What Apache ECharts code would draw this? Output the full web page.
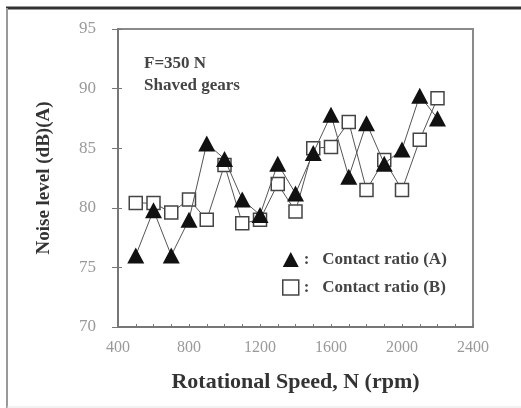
<!DOCTYPE html>
<html>
<head>
<meta charset="utf-8">
<script src="https://cdn.jsdelivr.net/npm/echarts@6/dist/echarts.min.js"></script>
<style>html,body{margin:0;padding:0;background:#fff}#c{width:521px;height:408px}</style>
</head>
<body>
<div id="c"></div>
<script>
var speeds = [500,600,700,800,900,1000,1100,1200,1300,1400,1500,1600,1700,1800,1900,2000,2100,2200];
var ratioA = [76.0,79.8,76.0,79.0,85.4,84.1,80.7,79.4,83.7,81.2,84.6,87.8,82.6,87.1,83.7,84.9,89.4,87.5];
var ratioB = [80.4,80.4,79.6,80.7,79.0,83.6,78.7,79.0,82.0,79.7,85.0,85.1,87.2,81.5,84.0,81.5,85.7,89.2];
var seriesNames = ['Contact ratio (A)', 'Contact ratio (B)'];
var xTicks = {min: 400, max: 2400, step: 400};
var yTicks = {min: 70, max: 95, step: 5};

var serif = '"Liberation Serif", "DejaVu Serif", serif';
var chart = echarts.init(document.getElementById('c'), null, {renderer: 'canvas'});
function pairs(xs, ys){ return xs.map(function(x,i){ return [x, ys[i]]; }); }

chart.setOption({
  animation: false,
  backgroundColor: '#fff',
  grid: {left: 118, right: 48, top: 29, bottom: 81, show: true, borderColor: '#8a8a8a', borderWidth: 2, backgroundColor: 'transparent'},
  xAxis: {
    type: 'value', min: xTicks.min, max: xTicks.max, interval: xTicks.step,
    name: 'Rotational Speed, N (rpm)', nameLocation: 'middle', nameGap: 44,
    nameTextStyle: {fontFamily: serif, fontWeight: 'bold', fontSize: 22, color: '#333'},
    axisLine: {lineStyle: {color: '#777', width: 2}},
    axisTick: {inside: true, length: 3, lineStyle: {color: '#777'}},
    minorTick: {show: true, splitNumber: 4, length: 3, lineStyle: {color: '#777'}},
    splitLine: {show: false},
    axisLabel: {fontFamily: serif, fontSize: 16, color: '#999', margin: 13, formatter: function(v){ return String(v); }}
  },
  yAxis: [{
    type: 'value', min: yTicks.min, max: yTicks.max, interval: yTicks.step,
    name: 'Noise level (dB)(A)', nameLocation: 'middle', nameGap: 64,
    nameTextStyle: {fontFamily: serif, fontWeight: 'bold', fontSize: 19, color: '#333'},
    axisLine: {lineStyle: {color: '#777', width: 2}},
    axisTick: {inside: false, length: 6, lineStyle: {color: '#777'}},
    splitLine: {show: false},
    axisLabel: {fontFamily: serif, fontSize: 17, color: '#999', margin: 22}
  }, {
    type: 'value', min: yTicks.min, max: yTicks.max, interval: yTicks.step, position: 'left',
    axisLine: {show: false},
    axisTick: {inside: true, length: 4, lineStyle: {color: '#777'}},
    splitLine: {show: false},
    axisLabel: {show: false}
  }],
  legend: {
    orient: 'vertical', left: 277, top: 246, itemGap: 11, itemWidth: 16, itemHeight: 15,
    textStyle: {fontFamily: serif, fontWeight: 'bold', fontSize: 17, color: '#444'},
    formatter: function(n){ return ':   ' + n; },
    data: [
      {name: seriesNames[0], icon: 'triangle', itemStyle: {color: '#111', borderWidth: 0}},
      {name: seriesNames[1], icon: 'rect', itemStyle: {color: '#fff', borderColor: '#444', borderWidth: 1.5}}
    ]
  },
  graphic: [
    {type: 'line', shape: {x1: 6, y1: 8, x2: 521, y2: 8}, style: {stroke: '#333', lineWidth: 3}},
    {type: 'line', shape: {x1: 7, y1: 8, x2: 7, y2: 408}, style: {stroke: '#999', lineWidth: 2}},
    {type: 'line', shape: {x1: 7, y1: 407, x2: 521, y2: 407}, style: {stroke: '#e4e4e4', lineWidth: 1}},
    {type: 'text', left: 144, top: 55, style: {text: 'F=350 N', font: 'bold 17px ' + serif, fill: '#444'}},
    {type: 'text', left: 144, top: 77, style: {text: 'Shaved gears', font: 'bold 17px ' + serif, fill: '#444'}}
  ],
  series: [{
    name: seriesNames[0], type: 'line', data: pairs(speeds, ratioA),
    symbol: 'triangle', symbolSize: [17, 16],
    lineStyle: {color: '#555', width: 1},
    itemStyle: {color: '#111', borderWidth: 0}, z: 3
  }, {
    name: seriesNames[1], type: 'line', data: pairs(speeds, ratioB),
    symbol: 'rect', symbolSize: 13,
    lineStyle: {color: '#555', width: 1},
    itemStyle: {color: '#fff', borderColor: '#444', borderWidth: 1.5}, z: 2
  }]
});
</script>
</body>
</html>
